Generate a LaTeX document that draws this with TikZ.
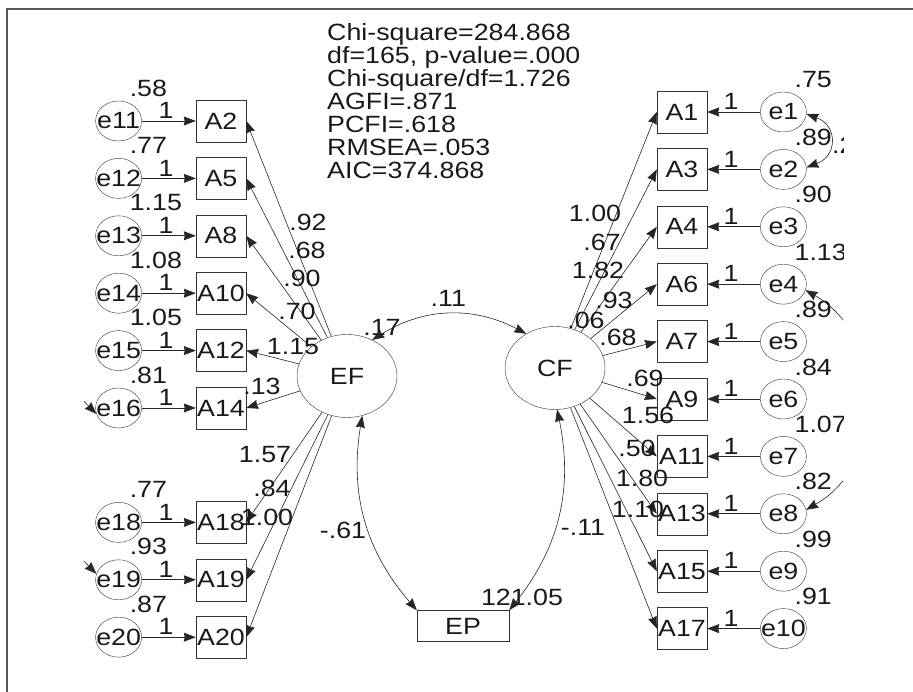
\documentclass[tikz,border=0pt]{standalone}
\usepackage{fontspec}
\setmainfont[FakeStretch=1.14]{Liberation Sans}
\usetikzlibrary{positioning,shapes.geometric,arrows.meta}

\begin{document}
\begin{tikzpicture}[
  x=1pt, y=1pt,
  every node/.style={font=\fontsize{23.5}{23}\selectfont, text=black!90},
  ind/.style={rectangle, draw=black!80, minimum width=50pt, minimum height=42pt, inner sep=0pt},
  err/.style={ellipse, draw=black!80, minimum width=46pt, minimum height=40pt, inner sep=-8pt},
  lat/.style={ellipse, draw=black!80, minimum width=100pt, minimum height=83pt, inner sep=0pt},
  arr/.style={-{Stealth[length=12pt,width=9pt,inset=1pt]}, draw=black!85, line width=0.6pt},
  cov/.style={{Stealth[length=12pt,width=9pt,inset=1pt]}-{Stealth[length=12pt,width=9pt,inset=1pt]},
              draw=black!85, line width=0.6pt},
  est/.style={inner sep=0pt},
  evar/.style={inner sep=0pt, anchor=west},
  one/.style={inner sep=0pt, above=2pt}
]

\useasboundingbox (0,0) rectangle (913,692);
\draw[black!65, line width=1.5pt] (7,-20) -- (7,683) -- (930,683);

\begin{scope}
\clip (84,0) rectangle (843,692);

\node[est, align=left, anchor=north west] (stats) at (327,669)
  {Chi-square=284.868\\df=165, p-value=.000\\Chi-square/df=1.726\\AGFI=.871\\PCFI=.618\\RMSEA=.053\\AIC=374.868};

% latent factors and outcome
\node[lat] (EF) at (347,316) {EF};
\node[lat] (CF) at (555,324) {CF};
\node[ind, minimum width=92pt, minimum height=31pt] (EP) at (463,66) {EP};

% EF indicators
\node[ind]                    (A2)  at (221,571) {A2};
\node[ind, below=15pt of A2]  (A5)  {A5};
\node[ind, below=15pt of A5]  (A8)  {A8};
\node[ind, below=15pt of A8]  (A10) {A10};
\node[ind, below=15pt of A10] (A12) {A12};
\node[ind, below=15pt of A12] (A14) {A14};
\node[ind, below=72pt of A14] (A18) {A18};
\node[ind, below=15pt of A18] (A19) {A19};
\node[ind, below=15pt of A19] (A20) {A20};

\node[err, left=54pt of A2]  (e11) {e11};
\node[err, left=54pt of A5]  (e12) {e12};
\node[err, left=54pt of A8]  (e13) {e13};
\node[err, left=54pt of A10] (e14) {e14};
\node[err, left=54pt of A12] (e15) {e15};
\node[err, left=54pt of A14] (e16) {e16};
\node[err, left=54pt of A18] (e18) {e18};
\node[err, left=54pt of A19] (e19) {e19};
\node[err, left=54pt of A20] (e20) {e20};

% CF indicators
\node[ind]                    (A1)  at (682,580) {A1};
\node[ind, below=15pt of A1]  (A3)  {A3};
\node[ind, below=15pt of A3]  (A4)  {A4};
\node[ind, below=15pt of A4]  (A6)  {A6};
\node[ind, below=15pt of A6]  (A7)  {A7};
\node[ind, below=15pt of A7]  (A9)  {A9};
\node[ind, below=15pt of A9]  (A11) {A11};
\node[ind, below=15pt of A11] (A13) {A13};
\node[ind, below=15pt of A13] (A15) {A15};
\node[ind, below=15pt of A15] (A17) {A17};

\node[err, right=53pt of A1]  (e1)  {e1};
\node[err, right=53pt of A3]  (e2)  {e2};
\node[err, right=53pt of A4]  (e3)  {e3};
\node[err, right=53pt of A6]  (e4)  {e4};
\node[err, right=53pt of A7]  (e5)  {e5};
\node[err, right=53pt of A9]  (e6)  {e6};
\node[err, right=53pt of A11] (e7)  {e7};
\node[err, right=53pt of A13] (e8)  {e8};
\node[err, right=53pt of A15] (e9)  {e9};
\node[err, right=53pt of A17] (e10) {e10};

% error paths
\draw[arr] (e11) -- node[one, pos=.45] (w11) {1} (A2);
\draw[arr] (e12) -- node[one, pos=.45] (w12) {1} (A5);
\draw[arr] (e13) -- node[one, pos=.45] (w13) {1} (A8);
\draw[arr] (e14) -- node[one, pos=.45] (w14) {1} (A10);
\draw[arr] (e15) -- node[one, pos=.45] (w15) {1} (A12);
\draw[arr] (e16) -- node[one, pos=.45] (w16) {1} (A14);
\draw[arr] (e18) -- node[one, pos=.45] (w18) {1} (A18);
\draw[arr] (e19) -- node[one, pos=.45] (w19) {1} (A19);
\draw[arr] (e20) -- node[one, pos=.45] (w20) {1} (A20);
\draw[arr] (e1)  -- node[one, pos=.55] (w1)  {1} (A1);
\draw[arr] (e2)  -- node[one, pos=.55] (w2)  {1} (A3);
\draw[arr] (e3)  -- node[one, pos=.55] (w3)  {1} (A4);
\draw[arr] (e4)  -- node[one, pos=.55] (w4)  {1} (A6);
\draw[arr] (e5)  -- node[one, pos=.55] (w5)  {1} (A7);
\draw[arr] (e6)  -- node[one, pos=.55] (w6)  {1} (A9);
\draw[arr] (e7)  -- node[one, pos=.55] (w7)  {1} (A11);
\draw[arr] (e8)  -- node[one, pos=.55] (w8)  {1} (A13);
\draw[arr] (e9)  -- node[one, pos=.55] (w9)  {1} (A15);
\draw[arr] (e10) -- node[one, pos=.55] (w10) {1} (A17);

% error variances
\node[evar] (v11) at ([shift={(11,33)}]e11.center) {.58};
\node[evar] (v12) at ([shift={(11,33)}]e12.center) {.77};
\node[evar] (v13) at ([shift={(11,33)}]e13.center) {1.15};
\node[evar] (v14) at ([shift={(11,33)}]e14.center) {1.08};
\node[evar] (v15) at ([shift={(11,33)}]e15.center) {1.05};
\node[evar] (v16) at ([shift={(11,33)}]e16.center) {.81};
\node[evar] (v18) at ([shift={(11,33)}]e18.center) {.77};
\node[evar] (v19) at ([shift={(11,33)}]e19.center) {.93};
\node[evar] (v20) at ([shift={(11,33)}]e20.center) {.87};
\node[evar] (v1)  at ([shift={(11,32)}]e1.center)  {.75};
\node[evar] (v2)  at ([shift={(11,32)}]e2.center)  {.89};
\node[evar] (v3)  at ([shift={(11,32)}]e3.center)  {.90};
\node[evar] (v4)  at ([shift={(11,32)}]e4.center)  {1.13};
\node[evar] (v5)  at ([shift={(11,32)}]e5.center)  {.89};
\node[evar] (v6)  at ([shift={(11,32)}]e6.center)  {.84};
\node[evar] (v7)  at ([shift={(11,32)}]e7.center)  {1.07};
\node[evar] (v8)  at ([shift={(11,32)}]e8.center)  {.82};
\node[evar] (v9)  at ([shift={(11,32)}]e9.center)  {.99};
\node[evar] (v10) at ([shift={(11,32)}]e10.center) {.91};

% loadings
\draw[arr] (EF) -- (A2.east);
\draw[arr] (EF) -- (A5.east);
\draw[arr] (EF) -- (A8.east);
\draw[arr] (EF) -- (A10.east);
\draw[arr] (EF) -- (A12.east);
\draw[arr] (EF) -- (A14.east);
\draw[arr] (EF) -- (A18.east);
\draw[arr] (EF) -- (A19.east);
\draw[arr] (EF) -- (A20.east);
\draw[arr] (CF) -- (A1.west);
\draw[arr] (CF) -- (A3.west);
\draw[arr] (CF) -- (A4.west);
\draw[arr] (CF) -- (A6.west);
\draw[arr] (CF) -- (A7.west);
\draw[arr] (CF) -- (A9.west);
\draw[arr] (CF) -- (A11.west);
\draw[arr] (CF) -- (A13.west);
\draw[arr] (CF) -- (A15.west);
\draw[arr] (CF) -- (A17.west);

\node[est] (l2)  at (308,470) {.92};
\node[est] (l5)  at (307,442) {.68};
\node[est] (l8)  at (302,414) {.90};
\node[est] (l10) at (297,381) {.70};
\node[est] (l12) at (293,345) {1.15};
\node[est] (l14) at (262,306) {.13};
\node[est] (l18) at (265,237) {1.57};
\node[est] (l19) at (272,204) {.84};
\node[est] (l20) at (267,175) {1.00};
\node[est] (l1)  at (595,479) {1.00};
\node[est] (l3)  at (602,450) {.67};
\node[est] (l4)  at (598,422) {1.82};
\node[est] (l6)  at (614,392) {.93};
\node[est] (l7)  at (618,355) {.68};
\node[est] (l9)  at (645,314) {.69};
\node[est] (l11) at (648,277) {1.56};
\node[est] (l13) at (637,244) {.50};
\node[est] (l15) at (642,214) {1.80};
\node[est] (l17) at (638,183) {1.10};

% variances and covariances
\node[est] (vEF) at (382,365) {.17};
\node[est] (vCF) at (586,372) {.06};
\node[est] (vEP) at (522,95)  {121.05};
\draw[cov] (EF.55) to[bend left=30] node[est, above=7pt] (cEC) {.11} (CF.130);
\draw[cov] (EF.-69) to[bend right=25] (EP.north west);
\draw[cov] (CF.-87) to[bend left=25] (EP.north east);
\node[est] (cEP) at (343,162) {-.61};
\node[est] (cCP) at (583,165) {-.11};

\draw[cov] (e1.-5) to[out=-20, in=20, looseness=1.6] (e2.5);
\node[evar] (c12) at (832,547) {.23};
\draw[cov] (e4.-15) to[out=-30, in=30, looseness=1.1] (e8.10);
\coordinate (c16) at (40,420);
\coordinate (c19) at (40,250);
\draw[cov] (c16) to[out=-80, in=135] (e16.195);
\draw[cov] (c19) to[out=-80, in=135] (e19.165);
\end{scope}

\end{tikzpicture}
\end{document}
